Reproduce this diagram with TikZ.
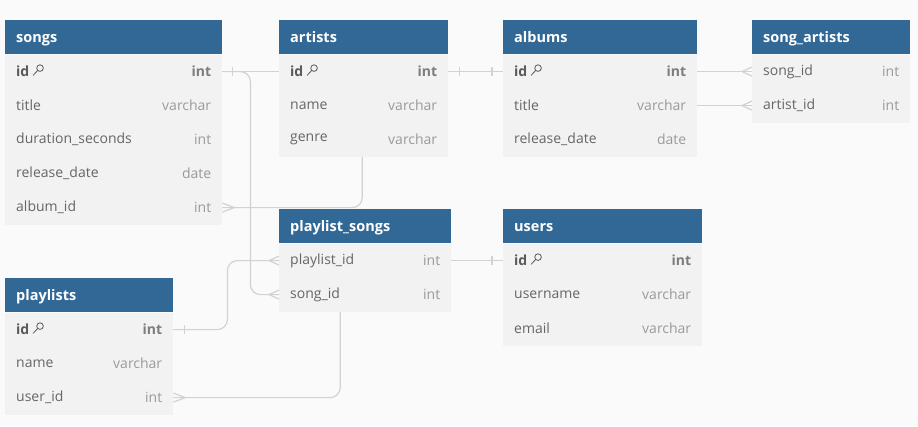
\documentclass[tikz,border=0pt]{standalone}
\usepackage{fontspec}
\setmainfont{Open Sans}
\usetikzlibrary{positioning}
\definecolor{hdblue}{HTML}{316896}
\definecolor{rowgray}{HTML}{F2F2F2}
\definecolor{canvas}{HTML}{FAFAFA}
\definecolor{linegray}{HTML}{D2D2D2}
\definecolor{namegray}{HTML}{666666}
\definecolor{typegray}{HTML}{9A9A9A}
\definecolor{keygray}{HTML}{5A5A5A}
\newcommand{\rowfont}{\fontsize{14}{17}\selectfont}
\newcommand{\fld}[1]{\expandafter\detokenize\expandafter{#1}}
\tikzset{
  thead/.style={anchor=north west, fill=hdblue, minimum height=34pt, inner sep=0pt},
  htext/.style={anchor=base west, inner sep=0pt, text=white, font=\bfseries\fontsize{14.5}{17}\selectfont},
  trow/.style={anchor=north west, fill=rowgray, minimum height=34pt, inner sep=0pt},
  fname/.style={anchor=west, inner sep=0pt, text=namegray, font=\rowfont},
  ftype/.style={anchor=east, inner sep=0pt, text=typegray, font=\rowfont},
  conn/.style={draw=linegray, line width=1.2pt},
  keyline/.style={draw=keygray, line width=0.8pt}
}
% one table: name, top left corner, width, has key (1/0), rows
\newcommand{\dbtab}[5]{%
  \node[thead, minimum width=#3] (#1) at #2 {};
  \node[htext] (#1-title) at ([xshift=11pt,yshift=-5pt]#1.west) {\fld{#1}};
  \foreach \f/\t [count=\i] in {#5} {
    \node[trow, minimum width=#3] (#1-\f) at ([yshift={-(\i-1)*34pt}]#1.south west) {};
    \ifnum\i=1 \ifnum#4=1 \def\isk{1}\else\def\isk{0}\fi\else\def\isk{0}\fi
    \ifnum\isk=1
      \node[fname, text=keygray, font=\bfseries\rowfont] (#1-\f-n) at ([xshift=11pt]#1-\f.west) {\fld{\f}};
      \draw[keyline] ([xshift=10.5pt,yshift=3.5pt]#1-\f-n.east) circle (3.3pt)
        ([xshift=8.2pt,yshift=1.2pt]#1-\f-n.east) -- ([xshift=3.5pt,yshift=-3.8pt]#1-\f-n.east);
      \node[ftype, text=namegray!85, font=\bfseries\rowfont] at ([xshift=-11pt]#1-\f.east) {\t};
    \else
      \node[fname] at ([xshift=11pt]#1-\f.west) {\fld{\f}};
      \node[ftype] at ([xshift=-11pt]#1-\f.east) {\t};
    \fi
  }}
\newcommand{\one}[2]{\draw[conn] ([xshift=#2,yshift=4.5pt]#1) -- ([xshift=#2,yshift=-4.5pt]#1);}
\newcommand{\many}[2]{\draw[conn] ([xshift=#2]#1) -- ([yshift=4.5pt]#1) ([xshift=#2]#1) -- ([yshift=-4.5pt]#1);}
\begin{document}
\begin{tikzpicture}[x=1pt, y=-1pt]
\useasboundingbox[fill=canvas] (0,0) rectangle (918,426);

\dbtab{songs}{(5,20)}{217pt}{1}{id/int, title/varchar, duration_seconds/int, release_date/date, album_id/int}
\dbtab{artists}{(279,20)}{169pt}{1}{id/int, name/varchar, genre/varchar}
\dbtab{albums}{(503,20)}{194pt}{1}{id/int, title/varchar, release_date/date}
\dbtab{song_artists}{(752,20)}{158pt}{0}{song_id/int, artist_id/int}
\dbtab{playlist_songs}{(279,209)}{172pt}{0}{playlist_id/int, song_id/int}
\dbtab{users}{(503,209)}{199pt}{1}{id/int, username/varchar, email/varchar}
\dbtab{playlists}{(5,278)}{168pt}{1}{id/int, name/varchar, user_id/int}

% relations
\draw[conn] (songs-id.east) -- (artists-id.west);
\draw[conn, rounded corners=10pt] (songs-id.east) -- ++(28,0) |- (playlist_songs-song_id.west);
\draw[conn, rounded corners=10pt] ([xshift=-1.5pt]artists-genre.south) |- (songs-album_id.east);
\draw[conn] (artists-id.east) -- (albums-id.west);
\draw[conn] (albums-id.east) -- (song_artists-song_id.west);
\draw[conn] (albums-title.east) -- (song_artists-artist_id.west);
\draw[conn, rounded corners=10pt] (playlists-id.east) -- ++(54,0) |- (playlist_songs-playlist_id.west);
\draw[conn, rounded corners=10pt] ([xshift=-25pt]playlist_songs-song_id.south) |- (playlists-user_id.east);
\draw[conn] (playlist_songs-playlist_id.east) -- (users-id.west);

% cardinality marks
\one{songs-id.east}{10pt}
\one{artists-id.east}{11pt}
\one{albums-id.west}{-11pt}
\one{users-id.west}{-11pt}
\one{playlists-id.east}{11pt}
\many{song_artists-song_id.west}{-10pt}
\many{song_artists-artist_id.west}{-10pt}
\many{playlist_songs-playlist_id.west}{-10pt}
\many{playlist_songs-song_id.west}{-10pt}
\many{songs-album_id.east}{12pt}
\many{playlists-user_id.east}{12pt}
\end{tikzpicture}
\end{document}
